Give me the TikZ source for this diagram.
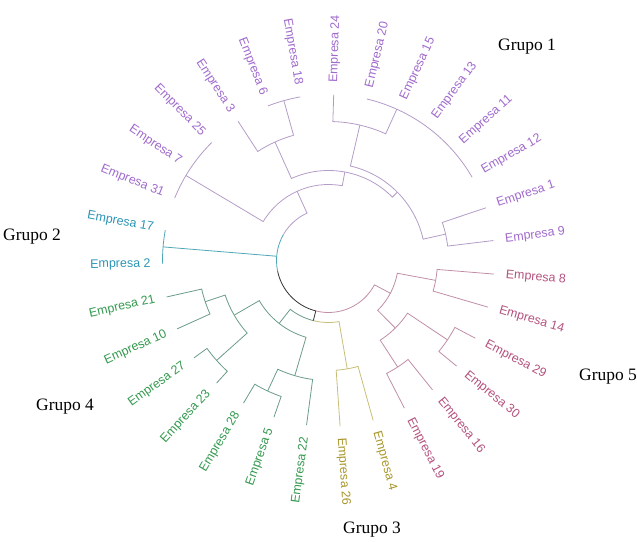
\documentclass[tikz,border=0pt]{standalone}
\usepackage{fontspec}
\setmainfont{Liberation Serif}
\newfontfamily\lbfont{Liberation Sans}
\usepackage{tikz}
\definecolor{purline}{HTML}{B49CC8}
\definecolor{purtext}{HTML}{A06ACC}
\definecolor{tealline}{HTML}{4FA8B8}
\definecolor{tealtext}{HTML}{2B95B5}
\definecolor{grnline}{HTML}{6A9C86}
\definecolor{grntext}{HTML}{34994F}
\definecolor{oliveline}{HTML}{C8BE78}
\definecolor{olivetext}{HTML}{A8962A}
\definecolor{pinkline}{HTML}{C08EA8}
\definecolor{pinktext}{HTML}{B4527E}

\begin{document}
\begin{tikzpicture}[
    x=1bp, y=1bp,
    branch/.style={line width=0.8bp},
    leafR/.style={anchor=west, inner xsep=12bp, inner ysep=1bp, outer sep=0pt, font=\lbfont\fontsize{12.5}{14}\selectfont},
    leafL/.style={leafR, anchor=east},
    grupo/.style={font=\fontsize{17.5}{20}\selectfont}
]
\useasboundingbox (-328.5,-281.5) rectangle (308.5,260.5);

% Grupo 1
\node[leafR, purtext, rotate=88.2] (e24) at (88.2:166) {Empresa 24};
\node[leafR, purtext, rotate=76.6] (e20) at (76.6:166) {Empresa 20};
\node[leafR, purtext, rotate=65.0] (e15) at (65.0:166) {Empresa 15};
\node[leafR, purtext, rotate=53.4] (e13) at (53.4:166) {Empresa 13};
\node[leafR, purtext, rotate=41.7] (e11) at (41.7:166) {Empresa 11};
\node[leafR, purtext, rotate=30.1] (e12) at (30.1:166) {Empresa 12};
\node[leafR, purtext, rotate=18.5] (e1) at (18.5:166) {Empresa 1};
\node[leafR, purtext, rotate=6.9] (e9) at (6.9:166) {Empresa 9};
\node[leafL, purtext, rotate=-22.1] (e31) at (157.9:166) {Empresa 31};
\node[leafL, purtext, rotate=-33.7] (e7) at (146.3:166) {Empresa 7};
\node[leafL, purtext, rotate=-45.3] (e25) at (134.7:166) {Empresa 25};
\node[leafL, purtext, rotate=-57.0] (e3) at (123.0:166) {Empresa 3};
\node[leafL, purtext, rotate=-68.6] (e6) at (111.4:166) {Empresa 6};
\node[leafL, purtext, rotate=-80.2] (e18) at (99.8:166) {Empresa 18};

% Grupo 5
\node[leafR, pinktext, rotate=-4.7] (e8) at (-4.7:166) {Empresa 8};
\node[leafR, pinktext, rotate=-16.3] (e14) at (-16.3:166) {Empresa 14};
\node[leafR, pinktext, rotate=-27.9] (e29) at (-27.9:166) {Empresa 29};
\node[leafR, pinktext, rotate=-39.5] (e30) at (-39.5:166) {Empresa 30};
\node[leafR, pinktext, rotate=-51.2] (e16) at (-51.2:166) {Empresa 16};
\node[leafR, pinktext, rotate=-62.8] (e19) at (-62.8:166) {Empresa 19};

% Grupo 3
\node[leafR, olivetext, rotate=-74.4] (e4) at (-74.4:166) {Empresa 4};
\node[leafR, olivetext, rotate=-86.0] (e26) at (-86.0:166) {Empresa 26};

% Grupo 4
\node[leafL, grntext, rotate=82.4] (e22) at (-97.6:166) {Empresa 22};
\node[leafL, grntext, rotate=70.8] (e5) at (-109.2:166) {Empresa 5};
\node[leafL, grntext, rotate=59.2] (e28) at (-120.8:166) {Empresa 28};
\node[leafL, grntext, rotate=47.6] (e23) at (-132.4:166) {Empresa 23};
\node[leafL, grntext, rotate=35.9] (e27) at (-144.1:166) {Empresa 27};
\node[leafL, grntext, rotate=24.3] (e10) at (-155.7:166) {Empresa 10};
\node[leafL, grntext, rotate=12.7] (e21) at (-167.3:166) {Empresa 21};

% Grupo 2
\node[leafL, tealtext, rotate=1.1] (e2) at (181.1:166) {Empresa 2};
\node[leafL, tealtext, rotate=-10.5] (e17) at (169.5:166) {Empresa 17};

% merge points
\coordinate (cG) at (65.7:166);
\coordinate (cP3) at (76.95:139);
\coordinate (cQ) at (12.7:120);
\coordinate (cX) at (44.8:97);
\coordinate (c618) at (105.6:166);
\coordinate (cP2) at (114.3:130);
\coordinate (cY) at (79.55:90);
\coordinate (cP1) at (149.2:166);
\coordinate (cPur) at (114.4:76);
\coordinate (cG2) at (175.3:166);
\coordinate (cOli) at (-80.2:110);
\coordinate (c285) at (-115.0:144);
\coordinate (c22) at (-106.3:120);
\coordinate (c2327) at (-138.25:150);
\coordinate (c1021) at (-161.5:130);
\coordinate (cG4b) at (-149.9:109);
\coordinate (cGrn) at (-128.1:80);
\coordinate (cGO) at (-104.15:62);
\coordinate (c814) at (-10.5:109);
\coordinate (c2930) at (-33.7:143);
\coordinate (c1619) at (-57.0:127);
\coordinate (c4b) at (-45.35:95);
\coordinate (cPink) at (-27.9:70);
\coordinate (rPur) at (114.4:52);
\coordinate (rG2) at (175.3:52);
\coordinate (rGO) at (255.85:52);
\coordinate (rPink) at (332.1:52);

% Grupo 1 branches
\draw[branch, purline] (e20.west) arc[start angle=76.6, end angle=30.1, radius=166];
\draw[branch, purline] (e24.west) -- (88.2:139) arc[start angle=88.2, end angle=65.7, radius=139] -- (cG);
\draw[branch, purline] (e1.west) -- (18.5:120) arc[start angle=18.5, end angle=6.9, radius=120] -- (e9.west);
\draw[branch, purline] (cP3) -- (76.95:97) arc[start angle=76.95, end angle=12.7, radius=97] -- (cQ);
\draw[branch, purline] (e6.east) arc[start angle=111.4, end angle=99.8, radius=166];
\draw[branch, purline] (e3.east) -- (123.0:130) arc[start angle=123.0, end angle=105.6, radius=130] -- (c618);
\draw[branch, purline] (cP2) -- (114.3:90) arc[start angle=114.3, end angle=44.8, radius=90] -- (cX);
\draw[branch, purline] (e31.east) arc[start angle=157.9, end angle=134.7, radius=166];
\draw[branch, purline] (cP1) -- (149.2:76) arc[start angle=149.2, end angle=79.55, radius=76] -- (cY);

% Grupo 2 branches
\draw[branch, tealline] (e17.east) arc[start angle=169.5, end angle=181.1, radius=166];

% Grupo 4 branches
\draw[branch, grnline] (e28.east) -- (-120.8:144) arc[start angle=-120.8, end angle=-109.2, radius=144] -- (e5.east);
\draw[branch, grnline] (c285) -- (-115.0:120) arc[start angle=-115.0, end angle=-97.6, radius=120] -- (e22.east);
\draw[branch, grnline] (e23.east) -- (-132.4:150) arc[start angle=-132.4, end angle=-144.1, radius=150] -- (e27.east);
\draw[branch, grnline] (e10.east) -- (-155.7:130) arc[start angle=-155.7, end angle=-167.3, radius=130] -- (e21.east);
\draw[branch, grnline] (c2327) -- (-138.25:109) arc[start angle=-138.25, end angle=-161.5, radius=109] -- (c1021);
\draw[branch, grnline] (c22) -- (-106.3:80) arc[start angle=-106.3, end angle=-149.9, radius=80] -- (cG4b);
\draw[branch, grnline] (cGrn) -- (-128.1:62) arc[start angle=-128.1, end angle=-104.15, radius=62];

% Grupo 3 branches
\draw[branch, oliveline] (e4.west) -- (-74.4:110) arc[start angle=-74.4, end angle=-86.0, radius=110] -- (e26.west);
\draw[branch, oliveline] (cOli) -- (-80.2:62) arc[start angle=-80.2, end angle=-104.15, radius=62];

% Grupo 5 branches
\draw[branch, pinkline] (e8.west) -- (-4.7:109) arc[start angle=-4.7, end angle=-16.3, radius=109] -- (e14.west);
\draw[branch, pinkline] (e29.west) -- (-27.9:143) arc[start angle=-27.9, end angle=-39.5, radius=143] -- (e30.west);
\draw[branch, pinkline] (e16.west) -- (-51.2:127) arc[start angle=-51.2, end angle=-62.8, radius=127] -- (e19.west);
\draw[branch, pinkline] (c2930) -- (-33.7:95) arc[start angle=-33.7, end angle=-57.0, radius=95] -- (c1619);
\draw[branch, pinkline] (c814) -- (-10.5:70) arc[start angle=-10.5, end angle=-45.35, radius=70] -- (c4b);

% trunk
\draw[branch, purline] (cPur) -- (rPur) arc[start angle=114.4, end angle=150, radius=52];
\draw[branch, tealline] (cG2) -- (rG2);
\draw[branch, tealline] (150:52) arc[start angle=150, end angle=192, radius=52];
\draw[branch, black!80] (cGO) -- (rGO) arc[start angle=255.85, end angle=192, radius=52];
\draw[branch, pinkline] (cPink) -- (rPink) arc[start angle=332.1, end angle=255.85, radius=52];

\node[grupo] (g1) at (198.5,213.5) {Grupo 1};
\node[grupo] (g2) at (-296.5,23.5) {Grupo 2};
\node[grupo] (g3) at (43.5,-269.5) {Grupo 3};
\node[grupo] (g4) at (-263.5,-146.5) {Grupo 4};
\node[grupo] (g5) at (279.5,-116.5) {Grupo 5};
\end{tikzpicture}
\end{document}
